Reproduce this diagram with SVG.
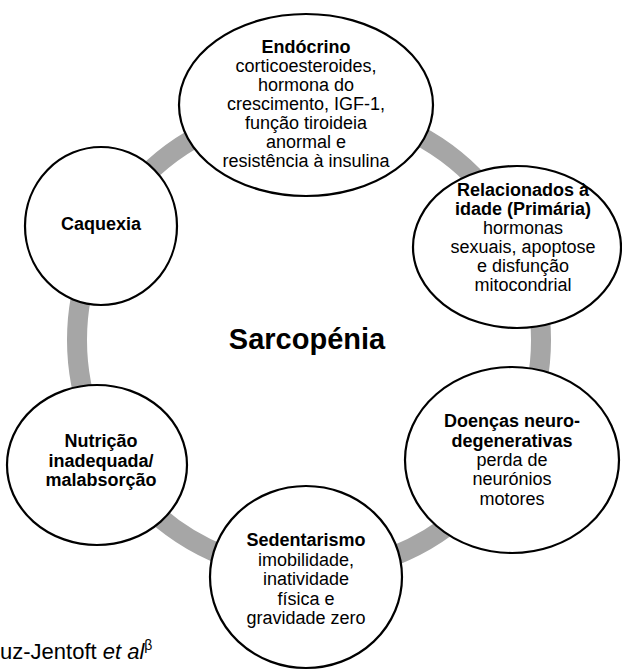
<svg xmlns="http://www.w3.org/2000/svg" width="622" height="671" viewBox="0 0 622 671">
<style>
.node{fill:#fff;stroke:#000;stroke-width:2.2}
.ring{fill:none;stroke:#a6a6a6;stroke-width:20}
text{font-family:"Liberation Sans",Arial,sans-serif;fill:#000;text-anchor:middle}
.t{font-size:18px}
.b{font-weight:bold}
</style>
<rect width="622" height="671" fill="#fff"/>
<g id="connectors">
<circle class="ring" cx="309" cy="340" r="232"/>
</g>
<g id="center">
<text x="307" y="349" class="b" style="font-size:29px">Sarcopénia</text>
</g>
<g id="endocrino">
<ellipse class="node" cx="306" cy="105" rx="127" ry="91"/>
<text class="t"><tspan x="306" y="53" class="b">Endócrino</tspan><tspan x="306" y="72">corticoesteroides,</tspan><tspan x="306" y="91">hormona do</tspan><tspan x="306" y="110">crescimento, IGF-1,</tspan><tspan x="306" y="129">função tiroideia</tspan><tspan x="306" y="148">anormal e</tspan><tspan x="306" y="167">resistência à insulina</tspan></text>
</g>
<g id="relacionados">
<ellipse class="node" cx="517" cy="247" rx="104" ry="81"/>
<text class="t"><tspan x="523" y="196" class="b">Relacionados à</tspan><tspan x="523" y="215" class="b">idade (Primária)</tspan><tspan x="523" y="234">hormonas</tspan><tspan x="523" y="253">sexuais, apoptose</tspan><tspan x="523" y="272">e disfunção</tspan><tspan x="523" y="291">mitocondrial</tspan></text>
</g>
<g id="doencas">
<ellipse class="node" cx="512" cy="460" rx="107" ry="93"/>
<text class="t"><tspan x="512" y="427" class="b">Doenças neuro-</tspan><tspan x="512" y="447" class="b">degenerativas</tspan><tspan x="512" y="466">perda de</tspan><tspan x="512" y="485">neurónios</tspan><tspan x="512" y="505">motores</tspan></text>
</g>
<g id="sedentarismo">
<ellipse class="node" cx="306" cy="577" rx="96" ry="91"/>
<text class="t"><tspan x="306" y="546" class="b">Sedentarismo</tspan><tspan x="306" y="566">imobilidade,</tspan><tspan x="306" y="585">inatividade</tspan><tspan x="306" y="605">física e</tspan><tspan x="306" y="624">gravidade zero</tspan></text>
</g>
<g id="nutricao">
<ellipse class="node" cx="97" cy="465" rx="90" ry="80"/>
<text class="t b"><tspan x="101" y="447">Nutrição</tspan><tspan x="101" y="467">inadequada/</tspan><tspan x="101" y="486">malabsorção</tspan></text>
</g>
<g id="caquexia">
<ellipse class="node" cx="101" cy="226" rx="76" ry="79"/>
<text x="101" y="230" class="t b">Caquexia</text>
</g>
<g id="citation">
<text x="0" y="659" style="font-size:22px;text-anchor:start">uz-Jentoft <tspan font-style="italic">et al</tspan><tspan dy="-9" style="font-size:14px">β</tspan></text>
</g>
</svg>
